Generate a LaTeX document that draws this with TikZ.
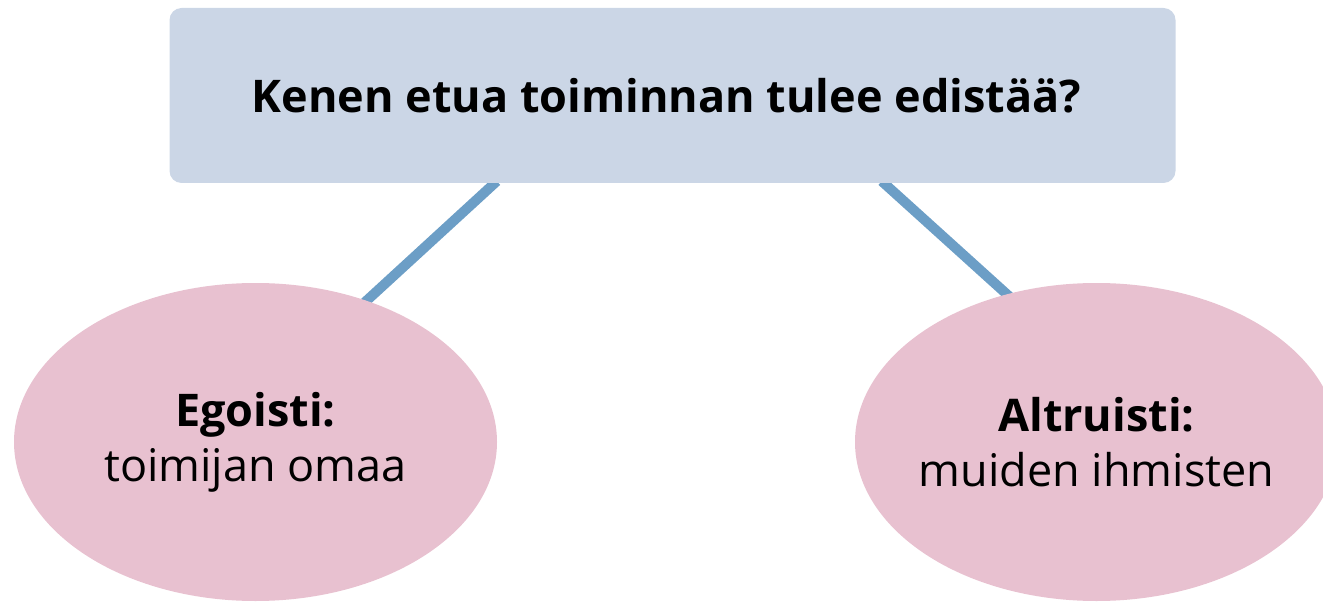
\documentclass[tikz,border=0pt]{standalone}
\usepackage{fontspec}
\setmainfont{Open Sans}
\usetikzlibrary{shapes.geometric,calc,backgrounds}
\definecolor{boxfill}{HTML}{CBD6E6}
\definecolor{ellfill}{HTML}{E8C1D0}
\definecolor{linkcol}{HTML}{6C9EC6}
\begin{document}
\begin{tikzpicture}[x=1pt,y=-1pt,
  topbox/.style={rectangle,rounded corners=12pt,fill=boxfill,minimum width=1006pt,minimum height=175pt,inner sep=0pt,font=\fontsize{45}{54}\selectfont\bfseries},
  oval/.style={ellipse,fill=ellfill,minimum width=483pt,minimum height=318pt,inner ysep=0pt,inner xsep=-60pt,align=center,font=\fontsize{45}{55}\selectfont},
  link/.style={draw=linkcol,line width=10pt}]
\useasboundingbox (0,0) rectangle (1323,604);
\clip (0,0) rectangle (1323,604);
\node[topbox] (top) at (672.5,95.5) {Kenen etua toiminnan tulee edistää?\hspace*{12pt}};
\node[oval] (ego) at (255.5,442) {\textbf{Egoisti:}\\toimijan omaa};
\node[oval] (alt) at (1096.5,442) {\textbf{Altruisti:}\\muiden ihmisten};
\begin{pgfonlayer}{background}
\draw[link] ($(top.south west)+(327.5,-2)$) -- ($(ego.center)+(90,-122)$);
\draw[link] ($(top.south west)+(712.5,-2)$) -- ($(alt.center)+(-70,-130)$);
\end{pgfonlayer}
\end{tikzpicture}
\end{document}
